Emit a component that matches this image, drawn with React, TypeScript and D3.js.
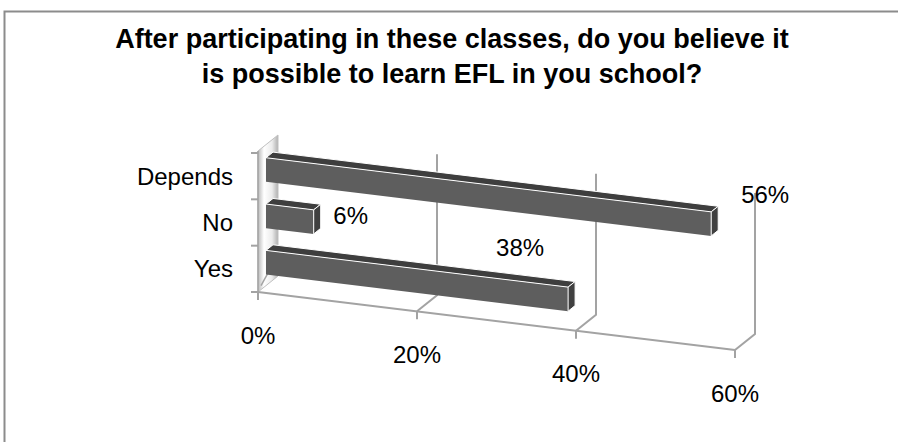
import React from "react";
import * as d3 from "d3";

const categories = ["Yes", "No", "Depends"];
const values = [38, 6, 56];
const valueLabels = ["38%", "6%", "56%"];
const xTicks = [0, 20, 40, 60];
const xTickLabels = ["0%", "20%", "40%", "60%"];
const titleLines = [
  "After participating in these classes, do you believe it",
  "is possible to learn EFL in you school?",
];

// layout constants (not data)
const W = 898;
const H = 442;
const X0 = 258;
const Y0 = 292;
const DX = 20;
const DY = -16;
const WALL_H = 141;
const D_FRONT = 0.4;
const D_BACK = 0.75;
const labelOffsets: [number, number][] = [
  [-48, -52],
  [37, -6],
  [54, -29],
];

const FONT = "'Liberation Sans', Arial, sans-serif";

export default function App() {
  const xs = d3.scaleLinear().domain([0, 60]).range([0, 477]);
  const ys = d3.scaleLinear().domain([0, 60]).range([0, 58]);
  const band = d3.scaleBand<string>().domain(categories).range([0, 139]).padding(0);
  const bw = band.bandwidth();
  const barH = bw * 0.52;

  const proj = (v: number, d: number, h: number): [number, number] => [
    X0 + xs(v) + d * DX,
    Y0 + ys(v) + d * DY - h,
  ];
  const poly = (pts: [number, number][]) => pts.map((p) => p.join(",")).join(" ");
  const line = d3.line();

  const gridColor = "#a3a3a3";

  return (
    <svg
      width={W}
      height={H}
      style={{ position: "absolute", left: 0, top: 0, background: "#fff" }}
      fontFamily={FONT}
    >
      <defs>
        <linearGradient id="sideWall" x1="0" x2="1" y1="0" y2="0">
          <stop offset="0" stopColor="#b8b8b8" />
          <stop offset="0.3" stopColor="#ffffff" />
          <stop offset="0.7" stopColor="#ececec" />
          <stop offset="1" stopColor="#b0b0b0" />
        </linearGradient>
      </defs>
      <rect x={0} y={0} width={W} height={H} fill="#fff" />
      <path d="M4.5,442 L4.5,11.5 L898,11.5" fill="none" stroke="#8c8c8c" strokeWidth={2} />

      {titleLines.map((t, i) => (
        <text
          key={i}
          x={452}
          y={48 + i * 35}
          textAnchor="middle"
          fontWeight="bold"
          fontSize={27}
          fill="#000"
        >
          {t}
        </text>
      ))}

      {/* back wall gridlines */}
      {xTicks
        .filter((t) => t > 0)
        .map((t) => (
          <path
            key={"g" + t}
            d={line([proj(t, 0, 0), proj(t, 1, 0), proj(t, 1, WALL_H)]) || ""}
            fill="none"
            stroke={gridColor}
            strokeWidth={2}
          />
        ))}

      {/* side wall */}
      <polygon
        points={poly([proj(0, 0, 0), proj(0, 0, WALL_H), proj(0, 1, WALL_H), proj(0, 1, 0)])}
        fill="url(#sideWall)"
        stroke="#c0c0c0"
        strokeWidth={1}
      />
      <path d={line([proj(0, 0.15, 4), proj(0, 0.75, 16)]) || ""} stroke={gridColor} strokeWidth={1.5} fill="none" />

      {/* axes */}
      <path d={line([proj(0, 0, 0), proj(60, 0, 0)]) || ""} stroke={gridColor} strokeWidth={2} fill="none" />
      <path d={line([proj(0, 0, 0), proj(0, 0, WALL_H)]) || ""} stroke={gridColor} strokeWidth={1.5} fill="none" />
      {xTicks.map((t) => {
        const [x, y] = proj(t, 0, 0);
        return <line key={"t" + t} x1={x} x2={x} y1={y} y2={y + 8} stroke={gridColor} strokeWidth={2} />;
      })}
      {[0, 1, 2, 3].map((i) => {
        const [x, y] = proj(0, 0, i * bw);
        return <line key={"yt" + i} x1={x - 7} x2={x} y1={y} y2={y} stroke={gridColor} strokeWidth={2} />;
      })}

      {/* bars */}
      {categories.map((c, i) => {
        const v = values[i];
        const hc = (band(c) || 0) + bw / 2;
        const h0 = hc - barH / 2;
        const h1 = hc + barH / 2;
        const front = [proj(0, D_FRONT, h0), proj(v, D_FRONT, h0), proj(v, D_FRONT, h1), proj(0, D_FRONT, h1)];
        const top = [proj(0, D_FRONT, h1), proj(v, D_FRONT, h1), proj(v, D_BACK, h1), proj(0, D_BACK, h1)];
        const right = [proj(v, D_FRONT, h0), proj(v, D_BACK, h0), proj(v, D_BACK, h1), proj(v, D_FRONT, h1)];
        return (
          <g key={c}>
            <polygon points={poly(front as any)} fill="#5e5e5e" />
            <polygon points={poly(top as any)} fill="#3e3e3e" stroke="#fff" strokeWidth={1} strokeLinejoin="round" />
            <polygon points={poly(right as any)} fill="#404040" stroke="#fff" strokeWidth={1} strokeLinejoin="round" />
          </g>
        );
      })}

      {/* category labels */}
      {categories.map((c) => {
        const hc = (band(c) || 0) + bw / 2;
        return (
          <text key={"c" + c} x={233} y={Y0 - hc} textAnchor="end" dominantBaseline="central" fontSize={24} fill="#000">
            {c}
          </text>
        );
      })}

      {/* x tick labels */}
      {xTicks.map((t, i) => {
        const [x, y] = proj(t, 0, 0);
        return (
          <text key={"xl" + t} x={x} y={y + 43} textAnchor="middle" dominantBaseline="central" fontSize={24} fill="#000">
            {xTickLabels[i]}
          </text>
        );
      })}

      {/* value labels */}
      {categories.map((c, i) => {
        const hc = (band(c) || 0) + bw / 2;
        const [x, y] = proj(values[i], D_FRONT, hc);
        return (
          <text
            key={"v" + c}
            x={x + labelOffsets[i][0]}
            y={y + labelOffsets[i][1]}
            textAnchor="middle"
            dominantBaseline="central"
            fontSize={24}
            fill="#000"
          >
            {valueLabels[i]}
          </text>
        );
      })}
    </svg>
  );
}
